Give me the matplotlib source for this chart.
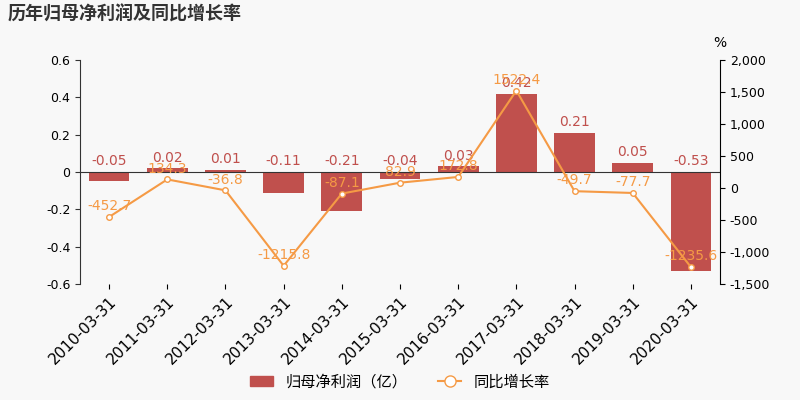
import matplotlib.pyplot as plt
import numpy as np
from matplotlib.patches import Patch
from matplotlib.lines import Line2D

plt.rcParams['font.family'] = ['DejaVu Sans', 'Noto Sans CJK SC']

dates = ['2010-03-31', '2011-03-31', '2012-03-31', '2013-03-31', '2014-03-31', '2015-03-31',
         '2016-03-31', '2017-03-31', '2018-03-31', '2019-03-31', '2020-03-31']
profit = [-0.05, 0.02, 0.01, -0.11, -0.21, -0.04, 0.03, 0.42, 0.21, 0.05, -0.53]
growth = [-452.7, 134.3, -36.8, -1215.8, -87.1, 82.9, 172.8, 1522.4, -49.7, -77.7, -1235.6]

bar_c = '#c0504d'
line_c = '#f59a45'
bg = '#f8f8f8'
cjk = ['Noto Sans CJK SC', 'DejaVu Sans']

fig = plt.figure(figsize=(8, 4), dpi=100, facecolor=bg)
ax = fig.add_axes([0.1, 0.29, 0.8, 0.56], facecolor=bg)
x = np.arange(len(dates))
ax.bar(x, profit, width=0.7, color=bar_c, zorder=2)
ax.set_ylim(-0.6, 0.6)
ax.set_yticks(np.arange(-0.6, 0.61, 0.2))
ax.set_yticklabels(['-0.6', '-0.4', '-0.2', '0', '0.2', '0.4', '0.6'])
ax.axhline(0, color='#333333', lw=0.8)
for xi, v in zip(x, profit):
    ax.text(xi, max(v, 0) + 0.02, f'{v:.2f}', ha='center', va='bottom', color=bar_c, fontsize=10)
ax.set_xlim(-0.5, len(dates) - 0.5)
ax.set_xticks(x)
ax.set_xticklabels(dates, rotation=45, ha='right', rotation_mode='anchor', fontsize=11)
for s in ['top', 'right']:
    ax.spines[s].set_visible(False)
ax.spines['left'].set_color('#333333')
ax.spines['bottom'].set_visible(False)
ax.tick_params(axis='y', labelsize=9, color='#333333')

ax2 = ax.twinx()
ax2.plot(x, growth, color=line_c, marker='o', markersize=4, markerfacecolor='white', lw=1.5, zorder=3)
ax2.set_ylim(-1500, 2000)
ax2.set_yticks(range(-1500, 2001, 500))
ax2.set_yticklabels([f'{v:,}' for v in range(-1500, 2001, 500)])
ax2.tick_params(axis='y', labelsize=9)
for s in ['top', 'left', 'bottom']:
    ax2.spines[s].set_visible(False)
for xi, v in zip(x, growth):
    ax2.text(xi, v + 60, f'{v}', ha='center', va='bottom', color=line_c, fontsize=10)
ax2.text(1.0, 1.06, '%', transform=ax2.transAxes, fontsize=10, ha='center')

fig.text(0.01, 0.965, '历年归母净利润及同比增长率', fontsize=13, fontweight='bold', color='#333333',
         va='center', family=cjk)

handles = [Patch(color=bar_c, label='归母净利润（亿）'),
           Line2D([], [], color=line_c, marker='o', markerfacecolor='white', markersize=8, label='同比增长率')]
fig.legend(handles=handles, loc='lower center', ncol=2, frameon=False,
           prop={'family': cjk, 'size': 11}, bbox_to_anchor=(0.5, -0.01), handlelength=1.5)

fig.savefig('out.png', facecolor=bg)
